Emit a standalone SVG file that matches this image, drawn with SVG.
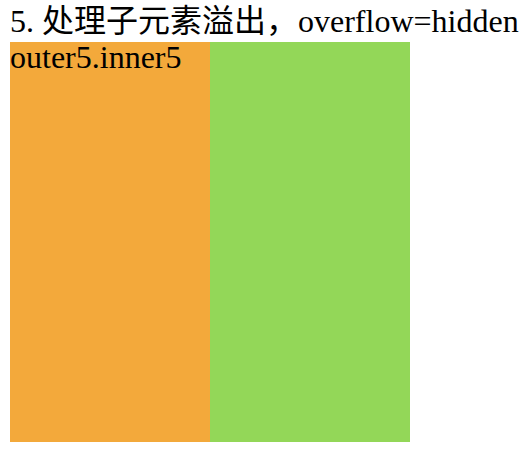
<svg xmlns="http://www.w3.org/2000/svg" width="528" height="462" viewBox="0 0 528 462">
<style>
.t{font-family:"Liberation Serif","Noto Sans CJK SC",serif;font-size:32px;fill:#000}
</style>
<rect width="528" height="462" fill="#fff"/>
<text class="t" x="10" y="32">5. 处理子元素溢出，overflow=hidden</text>
<g id="outer5">
<rect x="10" y="42" width="400" height="400" fill="#93d758"/>
<g id="inner5">
<rect x="10" y="42" width="200" height="400" fill="#f3a93b"/>
<text class="t" x="10" y="68">outer5.inner5</text>
</g>
</g>
<g id="connectors"/>
</svg>
